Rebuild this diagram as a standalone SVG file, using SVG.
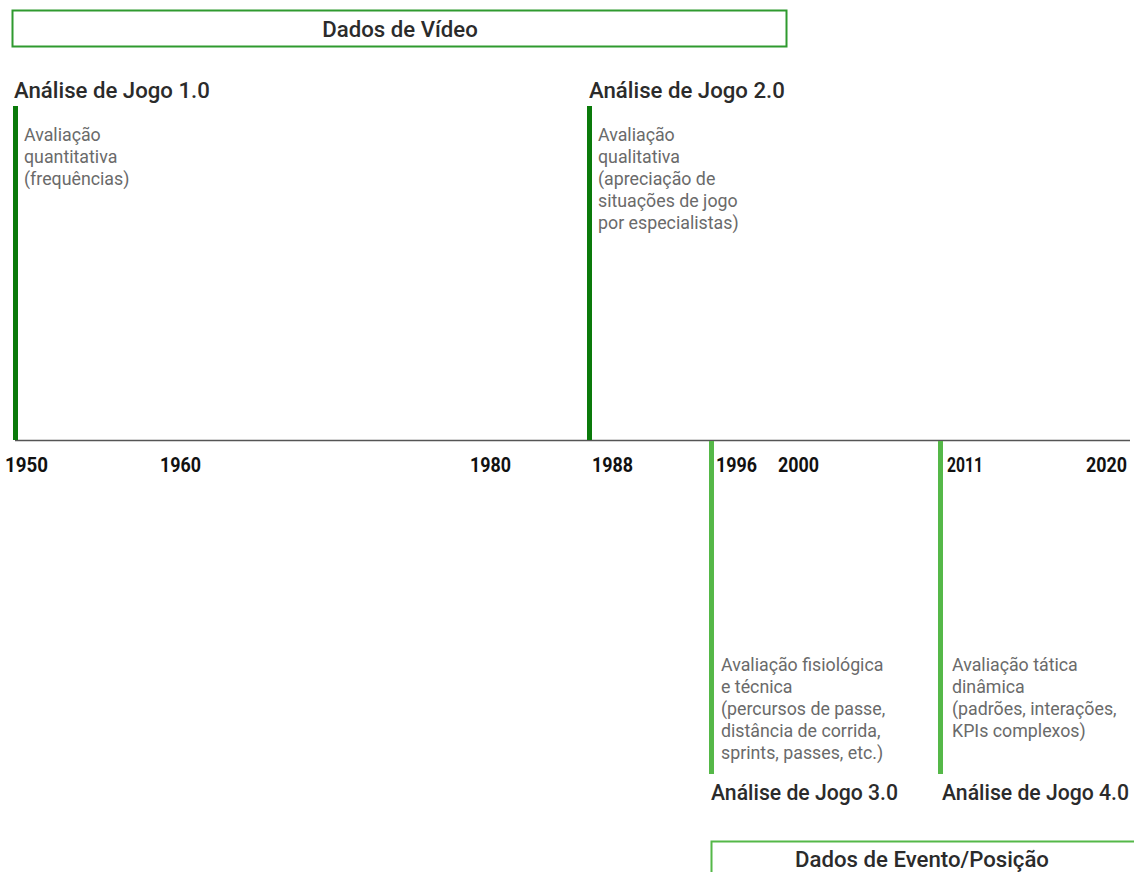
<svg xmlns="http://www.w3.org/2000/svg" width="1134" height="872" viewBox="0 0 1134 872">
<style>
.title{font-family:Roboto,"Liberation Sans",sans-serif;font-size:22.2px;font-weight:500;fill:#2b2b2b}
.title.low{font-size:21.2px}
.desc{font-family:Roboto,"Liberation Sans",sans-serif;font-size:17.8px;fill:#6a6a6a}
.year{font-family:Roboto,"Liberation Sans",sans-serif;font-size:21px;font-weight:bold;fill:#111}
.box{font-family:Roboto,"Liberation Sans",sans-serif;font-size:22.2px;font-weight:500;fill:#2b2b2b}
.dark{fill:#0a7a0a}
.light{fill:#55b848}
</style>
<rect width="1134" height="872" fill="#fff"/>
<g id="dados-video">
<rect x="12.5" y="10.5" width="774" height="36" fill="none" stroke="#2f9a2f" stroke-width="2"/>
<text class="box" x="400" y="37" text-anchor="middle">Dados de Vídeo</text>
</g>
<g id="connectors">
<line x1="15" y1="440.5" x2="1130" y2="440.5" stroke="#555" stroke-width="1.3"/>
</g>
<g id="aj1">
<rect class="dark" x="13" y="106" width="5" height="334"/>
<text class="title" x="14" y="98">Análise de Jogo 1.0</text>
<text class="desc" x="24" y="141">Avaliação</text>
<text class="desc" x="24" y="163">quantitativa</text>
<text class="desc" x="24" y="185">(frequências)</text>
</g>
<g id="aj2">
<rect class="dark" x="587" y="106" width="5" height="334"/>
<text class="title" x="589" y="98">Análise de Jogo 2.0</text>
<text class="desc" x="598" y="141">Avaliação</text>
<text class="desc" x="598" y="163">qualitativa</text>
<text class="desc" x="598" y="185">(apreciação de</text>
<text class="desc" x="598" y="207">situações de jogo</text>
<text class="desc" x="598" y="229">por especialistas)</text>
</g>
<g id="aj3">
<rect class="light" x="709" y="441" width="5" height="333"/>
<text class="desc" x="721" y="671">Avaliação fisiológica</text>
<text class="desc" x="721" y="693">e técnica</text>
<text class="desc" x="721" y="715">(percursos de passe,</text>
<text class="desc" x="721" y="737">distância de corrida,</text>
<text class="desc" x="721" y="759">sprints, passes, etc.)</text>
<text class="title low" x="711" y="800">Análise de Jogo 3.0</text>
</g>
<g id="aj4">
<rect class="light" x="938" y="441" width="5" height="333"/>
<text class="desc" x="952" y="671">Avaliação tática</text>
<text class="desc" x="952" y="693">dinâmica</text>
<text class="desc" x="952" y="715">(padrões, interações,</text>
<text class="desc" x="952" y="737">KPIs complexos)</text>
<text class="title low" x="942" y="800">Análise de Jogo 4.0</text>
</g>
<g id="years">
<text class="year" x="5" y="472" textLength="43" lengthAdjust="spacingAndGlyphs">1950</text>
<text class="year" x="160" y="472" textLength="41" lengthAdjust="spacingAndGlyphs">1960</text>
<text class="year" x="470" y="472" textLength="41" lengthAdjust="spacingAndGlyphs">1980</text>
<text class="year" x="592" y="472" textLength="41" lengthAdjust="spacingAndGlyphs">1988</text>
<text class="year" x="716" y="472" textLength="41" lengthAdjust="spacingAndGlyphs">1996</text>
<text class="year" x="778" y="472" textLength="41" lengthAdjust="spacingAndGlyphs">2000</text>
<text class="year" x="947" y="472" textLength="36" lengthAdjust="spacingAndGlyphs">2011</text>
<text class="year" x="1086" y="472" textLength="41" lengthAdjust="spacingAndGlyphs">2020</text>
</g>
<g id="dados-evento">
<rect x="711.5" y="841.5" width="430" height="40" fill="none" stroke="#55b848" stroke-width="2"/>
<text class="box" x="922" y="867" text-anchor="middle">Dados de Evento/Posição</text>
</g>
</svg>
